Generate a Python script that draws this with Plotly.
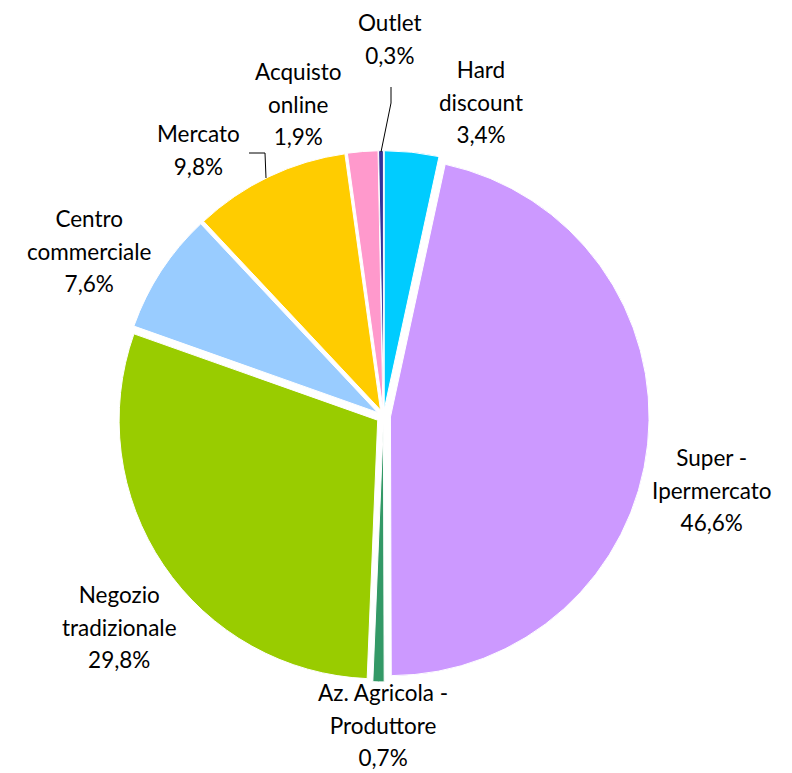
import plotly.graph_objects as go

# page has an 8px body margin: figure sized to fit the window
OFF = 8
W, H = 792 - OFF, 773 - OFF

# ---- data (clockwise from 12 o'clock) ----
categories = ["Hard discount", "Super - Ipermercato", "Az. Agricola - Produttore",
              "Negozio tradizionale", "Centro commerciale", "Mercato",
              "Acquisto online", "Outlet"]
label_lines = ["Hard<br>discount", "Super -<br>Ipermercato", "Az. Agricola -<br>Produttore",
               "Negozio<br>tradizionale", "Centro<br>commerciale", "Mercato",
               "Acquisto<br>online", "Outlet"]
values = [3.4, 46.6, 0.7, 29.8, 7.6, 9.8, 1.9, 0.3]
colors = ["#00CCFF", "#CC99FF", "#339966", "#99CC00", "#99CCFF", "#FFCC00", "#FF99CC", "#333399"]

# ---- layout helpers (pixel positions of label centres in the reference) ----
label_pos = [(481, 102), (711, 490), (383, 725), (119, 627), (89, 251), (198, 150), (298, 104), (390, 39)]

def px(x):
    return (x - OFF) / W

def py(y):
    return 1 - (y - OFF) / H

fig = go.Figure(go.Pie(
    labels=categories,
    values=values,
    sort=False,
    direction="clockwise",
    rotation=0,
    pull=[0.027] * len(values),
    marker=dict(colors=colors, line=dict(color="white", width=1)),
    textinfo="none",
    hoverinfo="label+percent",
    showlegend=False,
    domain=dict(x=[px(117.9), px(649.1)], y=[py(681.9), py(150.7)]),
))

annotations = []
for lab, v, (x, y) in zip(label_lines, values, label_pos):
    txt = lab + "<br>" + f"{v:.1f}".replace(".", ",") + "%"
    parts = txt.split("<br>")
    txt = "<br>".join(f'<span style="font-size:22.5px">{p}</span>' for p in parts)
    annotations.append(dict(
        x=px(x), y=py(y), xref="paper", yref="paper",
        text=txt, showarrow=False, xanchor="center", yanchor="middle",
        align="center", font=dict(family="Lato", size=25, color="#000000"),
    ))

# leader lines
shapes = [
    dict(type="path", xref="paper", yref="paper",
         path=f"M {px(391)},{py(87)} L {px(391)},{py(103)} L {px(381)},{py(152)}",
         line=dict(color="black", width=1)),
    dict(type="path", xref="paper", yref="paper",
         path=f"M {px(249)},{py(153)} L {px(265)},{py(153)} L {px(266)},{py(178)}",
         line=dict(color="black", width=1)),
]

fig.update_layout(
    width=W, height=H,
    margin=dict(l=0, r=0, t=0, b=0),
    paper_bgcolor="white", plot_bgcolor="white",
    annotations=annotations, shapes=shapes,
)

fig.write_html("out.html")
